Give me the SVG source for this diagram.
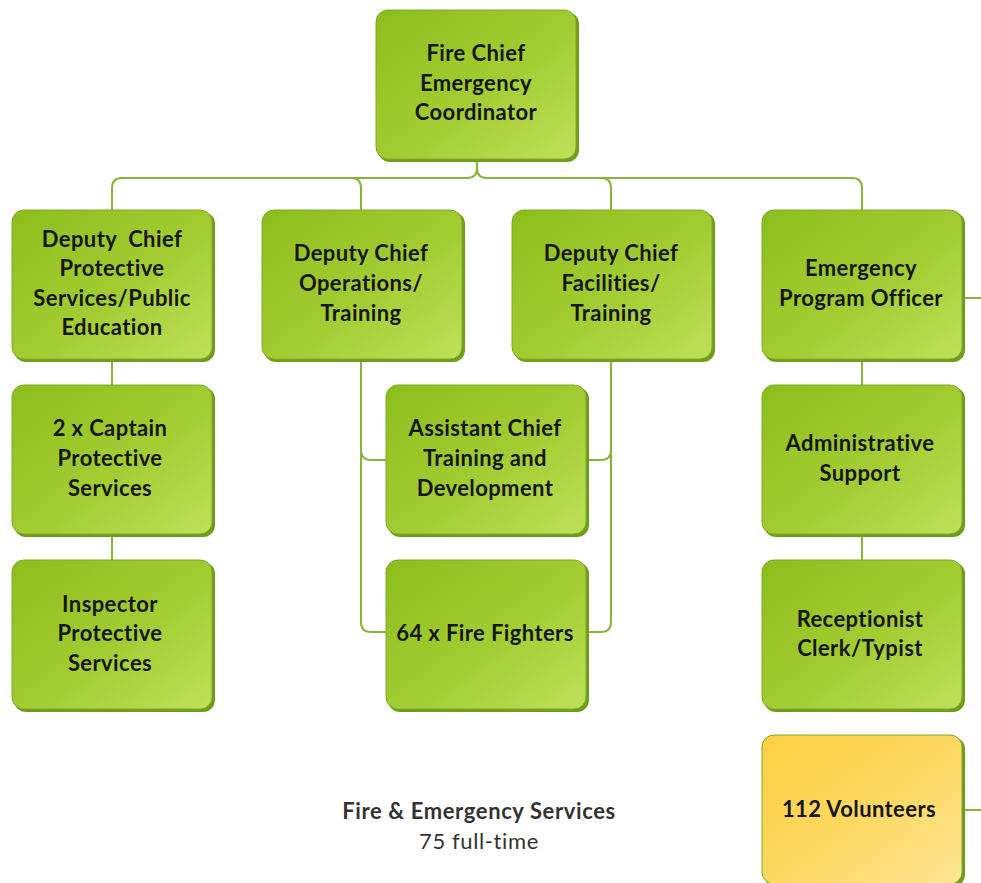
<svg xmlns="http://www.w3.org/2000/svg" width="981" height="883" viewBox="0 0 981 883">
  <defs>
    <linearGradient id="green" x1="0" y1="0" x2="1" y2="1">
      <stop offset="0" stop-color="#8dbd1d"/>
      <stop offset="0.55" stop-color="#a3cd33"/>
      <stop offset="1" stop-color="#bfe05a"/>
    </linearGradient>
    <linearGradient id="gold" x1="0" y1="0" x2="1" y2="1">
      <stop offset="0" stop-color="#fcd040"/>
      <stop offset="0.55" stop-color="#fdd964"/>
      <stop offset="1" stop-color="#fee596"/>
    </linearGradient>
  </defs>
  <style>
    .shadow { fill: #709c1c; }
    .box { fill: url(#green); stroke: #7eaa28; stroke-width: 1; }
    .box.yellow { fill: url(#gold); stroke: #7eaa28; }
    .label { font-family: Lato, "Open Sans", "Liberation Sans", sans-serif; font-weight: bold; font-size: 22px; letter-spacing: 0.4px; fill: #161616; text-anchor: middle; }
    .link { fill: none; stroke: #8bb33a; stroke-width: 2; }
    .caption { font-family: Lato, "Open Sans", "Liberation Sans", sans-serif; font-size: 22px; letter-spacing: 0.6px; fill: #333333; text-anchor: middle; }
  </style>

  <rect width="981" height="883" fill="#ffffff"/>

  <!-- connectors -->
  <g id="connectors">
    <!-- top trunk -->
    <path class="link" d="M477 160 V168 Q477 178 467 178 H122 Q112 178 112 188 V210"/>
    <path class="link" d="M477 168 Q477 178 487 178 H852 Q862 178 862 188 V210"/>
    <path class="link" d="M351 178 Q361 178 361 188 V210"/>
    <path class="link" d="M601 178 Q611 178 611 188 V210"/>
    <!-- left column -->
    <path class="link" d="M112 360 V385"/>
    <path class="link" d="M112 535 V560"/>
    <!-- operations to shared boxes -->
    <path class="link" d="M361 360 V450 Q361 460 371 460 H386"/>
    <path class="link" d="M361 450 V622 Q361 632 371 632 H386"/>
    <!-- facilities to shared boxes -->
    <path class="link" d="M611 360 V450 Q611 460 601 460 H588"/>
    <path class="link" d="M611 450 V622 Q611 632 601 632 H588"/>
    <!-- right column -->
    <path class="link" d="M862 360 V385"/>
    <path class="link" d="M862 535 V560"/>
    <path class="link" d="M963 298 H981"/>
    <path class="link" d="M963 810 H981"/>
  </g>

  <!-- nodes -->
  <g id="fire-chief">
    <rect class="shadow" x="378" y="12" width="201" height="150" rx="12"/>
    <rect class="box" x="376" y="10" width="200" height="149" rx="12"/>
    <text class="label"><tspan x="476" y="61">Fire Chief</tspan><tspan x="476" y="91">Emergency</tspan><tspan x="476" y="120">Coordinator</tspan></text>
  </g>

  <g id="deputy-protective">
    <rect class="shadow" x="14" y="212" width="201" height="150" rx="12"/>
    <rect class="box" x="12" y="210" width="200" height="149" rx="12"/>
    <text class="label"><tspan x="112" y="247" xml:space="preserve">Deputy  Chief</tspan><tspan x="112" y="276">Protective</tspan><tspan x="112" y="306">Services/Public</tspan><tspan x="112" y="335">Education</tspan></text>
  </g>

  <g id="deputy-operations">
    <rect class="shadow" x="264" y="212" width="201" height="150" rx="12"/>
    <rect class="box" x="262" y="210" width="200" height="149" rx="12"/>
    <text class="label"><tspan x="361" y="261">Deputy Chief</tspan><tspan x="361" y="291">Operations/</tspan><tspan x="361" y="321">Training</tspan></text>
  </g>

  <g id="deputy-facilities">
    <rect class="shadow" x="514" y="212" width="201" height="150" rx="12"/>
    <rect class="box" x="512" y="210" width="200" height="149" rx="12"/>
    <text class="label"><tspan x="611" y="261">Deputy Chief</tspan><tspan x="611" y="291">Facilities/</tspan><tspan x="611" y="321">Training</tspan></text>
  </g>

  <g id="emergency-program-officer">
    <rect class="shadow" x="764" y="212" width="201" height="150" rx="12"/>
    <rect class="box" x="762" y="210" width="200" height="149" rx="12"/>
    <text class="label"><tspan x="861" y="276">Emergency</tspan><tspan x="861" y="306">Program Officer</tspan></text>
  </g>

  <g id="captain-protective">
    <rect class="shadow" x="14" y="387" width="201" height="150" rx="12"/>
    <rect class="box" x="12" y="385" width="200" height="149" rx="12"/>
    <text class="label"><tspan x="110" y="436">2 x Captain</tspan><tspan x="110" y="466">Protective</tspan><tspan x="110" y="496">Services</tspan></text>
  </g>

  <g id="assistant-chief">
    <rect class="shadow" x="388" y="387" width="201" height="150" rx="12"/>
    <rect class="box" x="386" y="385" width="200" height="149" rx="12"/>
    <text class="label"><tspan x="485" y="436">Assistant Chief</tspan><tspan x="485" y="466">Training and</tspan><tspan x="485" y="496">Development</tspan></text>
  </g>

  <g id="administrative-support">
    <rect class="shadow" x="764" y="387" width="201" height="150" rx="12"/>
    <rect class="box" x="762" y="385" width="200" height="149" rx="12"/>
    <text class="label"><tspan x="860" y="451">Administrative</tspan><tspan x="860" y="481">Support</tspan></text>
  </g>

  <g id="inspector">
    <rect class="shadow" x="14" y="562" width="201" height="150" rx="12"/>
    <rect class="box" x="12" y="560" width="200" height="149" rx="12"/>
    <text class="label"><tspan x="110" y="612">Inspector</tspan><tspan x="110" y="641">Protective</tspan><tspan x="110" y="671">Services</tspan></text>
  </g>

  <g id="fire-fighters">
    <rect class="shadow" x="388" y="562" width="201" height="150" rx="12"/>
    <rect class="box" x="386" y="560" width="200" height="149" rx="12"/>
    <text class="label" x="485" y="641">64 x Fire Fighters</text>
  </g>

  <g id="receptionist">
    <rect class="shadow" x="764" y="562" width="201" height="150" rx="12"/>
    <rect class="box" x="762" y="560" width="200" height="149" rx="12"/>
    <text class="label"><tspan x="860" y="627">Receptionist</tspan><tspan x="860" y="656">Clerk/Typist</tspan></text>
  </g>

  <g id="volunteers">
    <rect class="shadow" x="764" y="737" width="201" height="150" rx="12"/>
    <rect class="box yellow" x="762" y="735" width="200" height="149" rx="12"/>
    <text class="label" x="859" y="817">112 Volunteers</text>
  </g>

  <!-- caption -->
  <g id="caption">
    <text class="caption" x="479" y="819" font-weight="bold">Fire &amp; Emergency Services</text>
    <text class="caption" x="479" y="849">75 full-time</text>
  </g>
</svg>
